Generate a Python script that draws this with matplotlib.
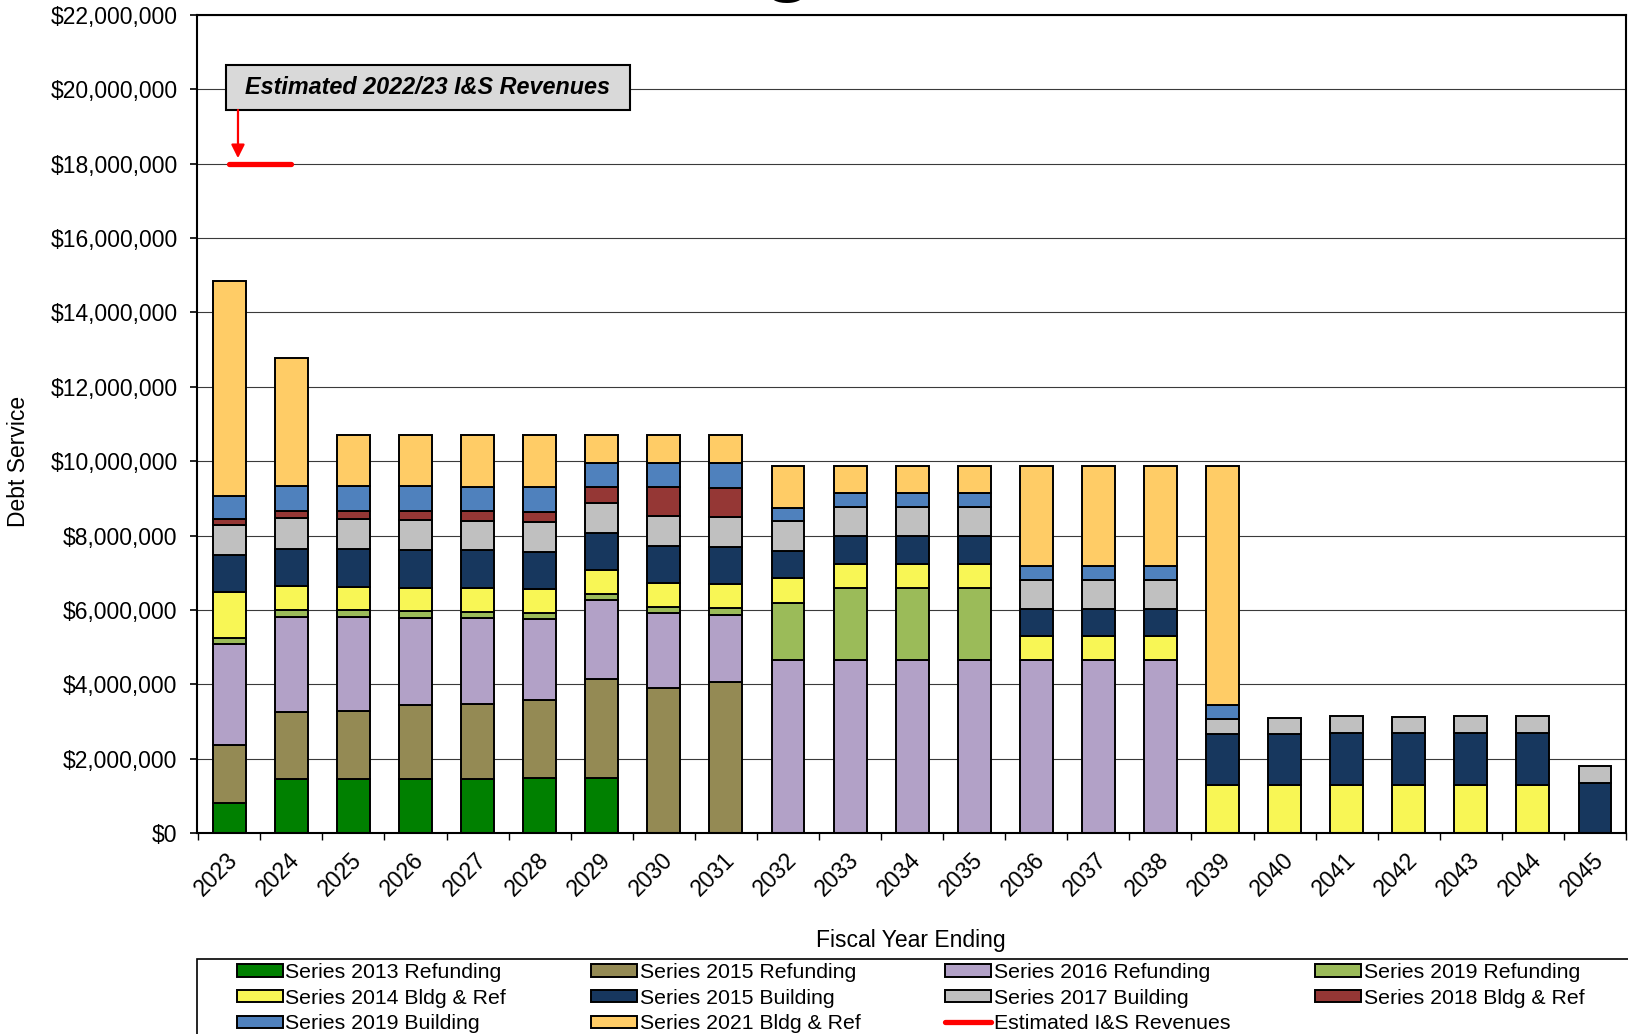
import numpy as np
import matplotlib
matplotlib.use("Agg")
import matplotlib.pyplot as plt
from matplotlib.patches import Rectangle
from matplotlib.transforms import ScaledTranslation
from matplotlib.ticker import FuncFormatter

plt.rcParams['font.family'] = ['Liberation Sans', 'DejaVu Sans']

# fiscal years and debt service per issue (millions of dollars)
years = [str(y) for y in range(2023, 2046)]

s2013_ref = [0.81, 1.44, 1.44, 1.44, 1.46, 1.47, 1.49, 0, 0, 0, 0, 0, 0, 0, 0, 0, 0, 0, 0, 0, 0, 0, 0]
s2015_ref = [1.56, 1.82, 1.85, 1.99, 2.00, 2.10, 2.64, 3.91, 4.05, 0, 0, 0, 0, 0, 0, 0, 0, 0, 0, 0, 0, 0, 0]
s2016_ref = [2.71, 2.56, 2.51, 2.35, 2.31, 2.18, 2.14, 2.00, 1.82, 4.65, 4.65, 4.65, 4.65, 4.65, 4.65, 4.65,
             0, 0, 0, 0, 0, 0, 0]
s2019_ref = [0.17, 0.19, 0.20, 0.18, 0.18, 0.17, 0.17, 0.16, 0.19, 1.54, 1.95, 1.95, 1.95, 0, 0, 0,
             0, 0, 0, 0, 0, 0, 0]
s2014_bldg_ref = [1.22, 0.63, 0.62, 0.63, 0.63, 0.64, 0.62, 0.65, 0.63, 0.66, 0.64, 0.64, 0.64, 0.64, 0.64, 0.64,
                  1.30, 1.28, 1.30, 1.30, 1.30, 1.30, 0]
s2015_bldg = [1.01, 1.01, 1.01, 1.02, 1.02, 1.00, 1.02, 1.01, 1.01, 0.74, 0.75, 0.75, 0.75, 0.73, 0.73, 0.73,
              1.35, 1.39, 1.39, 1.38, 1.39, 1.39, 1.35]
s2017_bldg = [0.80, 0.81, 0.81, 0.80, 0.80, 0.80, 0.79, 0.80, 0.80, 0.79, 0.77, 0.77, 0.77, 0.78, 0.78, 0.78,
              0.42, 0.43, 0.45, 0.44, 0.45, 0.45, 0.45]
s2018_bldg_ref = [0.16, 0.21, 0.23, 0.26, 0.27, 0.28, 0.44, 0.77, 0.79, 0, 0, 0, 0, 0, 0, 0,
                  0, 0, 0, 0, 0, 0, 0]
s2019_bldg = [0.63, 0.66, 0.66, 0.66, 0.64, 0.67, 0.64, 0.65, 0.66, 0.35, 0.38, 0.38, 0.38, 0.39, 0.39, 0.39,
              0.37, 0, 0, 0, 0, 0, 0]
s2021_bldg_ref = [5.77, 3.44, 1.37, 1.37, 1.39, 1.39, 0.75, 0.75, 0.75, 1.14, 0.73, 0.73, 0.73, 2.68, 2.68, 2.68,
                  6.43, 0, 0, 0, 0, 0, 0]

# estimated I&S revenues
revenue_years = ['2023', '2024']
revenue = [18_000_000, 18_000_000]

series = [
    ('Series 2013 Refunding', s2013_ref, '#008000'),
    ('Series 2015 Refunding', s2015_ref, '#948A54'),
    ('Series 2016 Refunding', s2016_ref, '#B2A1C7'),
    ('Series 2019 Refunding', s2019_ref, '#9BBB59'),
    ('Series 2014 Bldg & Ref', s2014_bldg_ref, '#F8F655'),
    ('Series 2015 Building', s2015_bldg, '#17375E'),
    ('Series 2017 Building', s2017_bldg, '#C0C0C0'),
    ('Series 2018 Bldg & Ref', s2018_bldg_ref, '#953735'),
    ('Series 2019 Building', s2019_bldg, '#4F81BD'),
    ('Series 2021 Bldg & Ref', s2021_bldg_ref, '#FFCC66'),
]

fig = plt.figure(figsize=(16.28, 10.34), dpi=100)
ax = fig.add_axes([0.121, 0.1944, 0.8778, 0.7911])

x = np.arange(len(years))
bottom = np.zeros(len(years))
handles = {}
for name, vals, color in series:
    vals = np.array(vals) * 1e6
    keep = vals > 0
    bars = ax.bar(x[keep], vals[keep], 0.53, bottom=bottom[keep], color=color,
                  edgecolor='black', linewidth=1.4, zorder=2, label=name)
    handles[name] = bars
    bottom += vals

rev_x = [years.index(y) for y in revenue_years]
line, = ax.plot(rev_x, revenue, color='red', lw=3.8, solid_capstyle='round', zorder=4,
                label='Estimated I&S Revenues')
handles['Estimated I&S Revenues'] = line

# axes
ax.set_xlim(-0.52, 22.48)
ax.set_ylim(0, 22_000_000)
ax.set_yticks(np.arange(0, 22_000_001, 2_000_000))
ax.yaxis.set_major_formatter(FuncFormatter(lambda v, p: f'${v:,.0f}'))
ax.grid(axis='y', color='#3a3a3a', lw=0.8)
ax.set_axisbelow(True)
for s in ax.spines.values():
    s.set_linewidth(1.5)
    s.set_color('black')

ax.tick_params(axis='y', direction='out', length=5, width=1.2, pad=9, labelsize=16.5)
ax.set_xticks(x)
ax.set_xticklabels(years, rotation=45, ha='right', va='top', rotation_mode='anchor', fontsize=16.5)
ax.set_xticks(np.arange(-0.5, len(years), 1), minor=True)
ax.tick_params(axis='x', which='major', length=0, pad=11)
ax.tick_params(axis='x', which='minor', direction='out', length=5, width=1.0)
shift = ScaledTranslation(-3 / 100, 0, fig.dpi_scale_trans)
for lab in ax.get_xticklabels():
    lab.set_transform(lab.get_transform() + shift)

fig.text(19 / 1628, 1 - 461 / 1034, 'Debt Service', rotation=90, ha='center', va='center', fontsize=16.5)
fig.text(911 / 1628, 1 - 940 / 1034, 'Fiscal Year Ending', ha='center', va='center', fontsize=16.5)

# big heading sitting above the page edge
fig.text(0.484, 1.0175, 'g', ha='center', va='baseline', fontsize=72)

# callout box with arrow down to the revenue line
ax.add_patch(Rectangle((0.0203, 0.8839), 0.2827, 0.0550, transform=ax.transAxes,
                       facecolor='#D9D9D9', edgecolor='black', lw=1.5, zorder=5))
ax.text(0.0203 + 0.2827 / 2, 0.8839 + 0.0275, 'Estimated 2022/23 I&S Revenues', transform=ax.transAxes,
        ha='center', va='center', fontsize=16.8, fontweight='bold', fontstyle='italic', zorder=6)
ax.annotate('', xy=(0.14, revenue[0]), xycoords='data',
            xytext=(0.0287, 0.8839), textcoords='axes fraction',
            arrowprops=dict(arrowstyle='-|>', color='red', lw=1.6, mutation_scale=20,
                            shrinkA=0, shrinkB=4), zorder=6)

# legend, laid out row by row like the source
order = ['Series 2013 Refunding', 'Series 2014 Bldg & Ref', 'Series 2019 Building',
         'Series 2015 Refunding', 'Series 2015 Building', 'Series 2021 Bldg & Ref',
         'Series 2016 Refunding', 'Series 2017 Building', 'Estimated I&S Revenues',
         'Series 2019 Refunding', 'Series 2018 Bldg & Ref']
fig.add_artist(Rectangle((197 / 1628, -0.2), 1.0, (1 - 959 / 1034) + 0.2, transform=fig.transFigure,
                         fill=False, edgecolor='black', lw=1.2))
fig.legend([handles[k] for k in order], order, loc='upper left',
           bbox_to_anchor=(237 / 1628, 1 - 963 / 1034), ncol=4, frameon=False,
           fontsize=15.3, borderpad=0, borderaxespad=0, handlelength=2.16, handleheight=0.5,
           handletextpad=0.12, columnspacing=4.0, labelspacing=0.31)

fig.savefig('out.png', dpi=100)
